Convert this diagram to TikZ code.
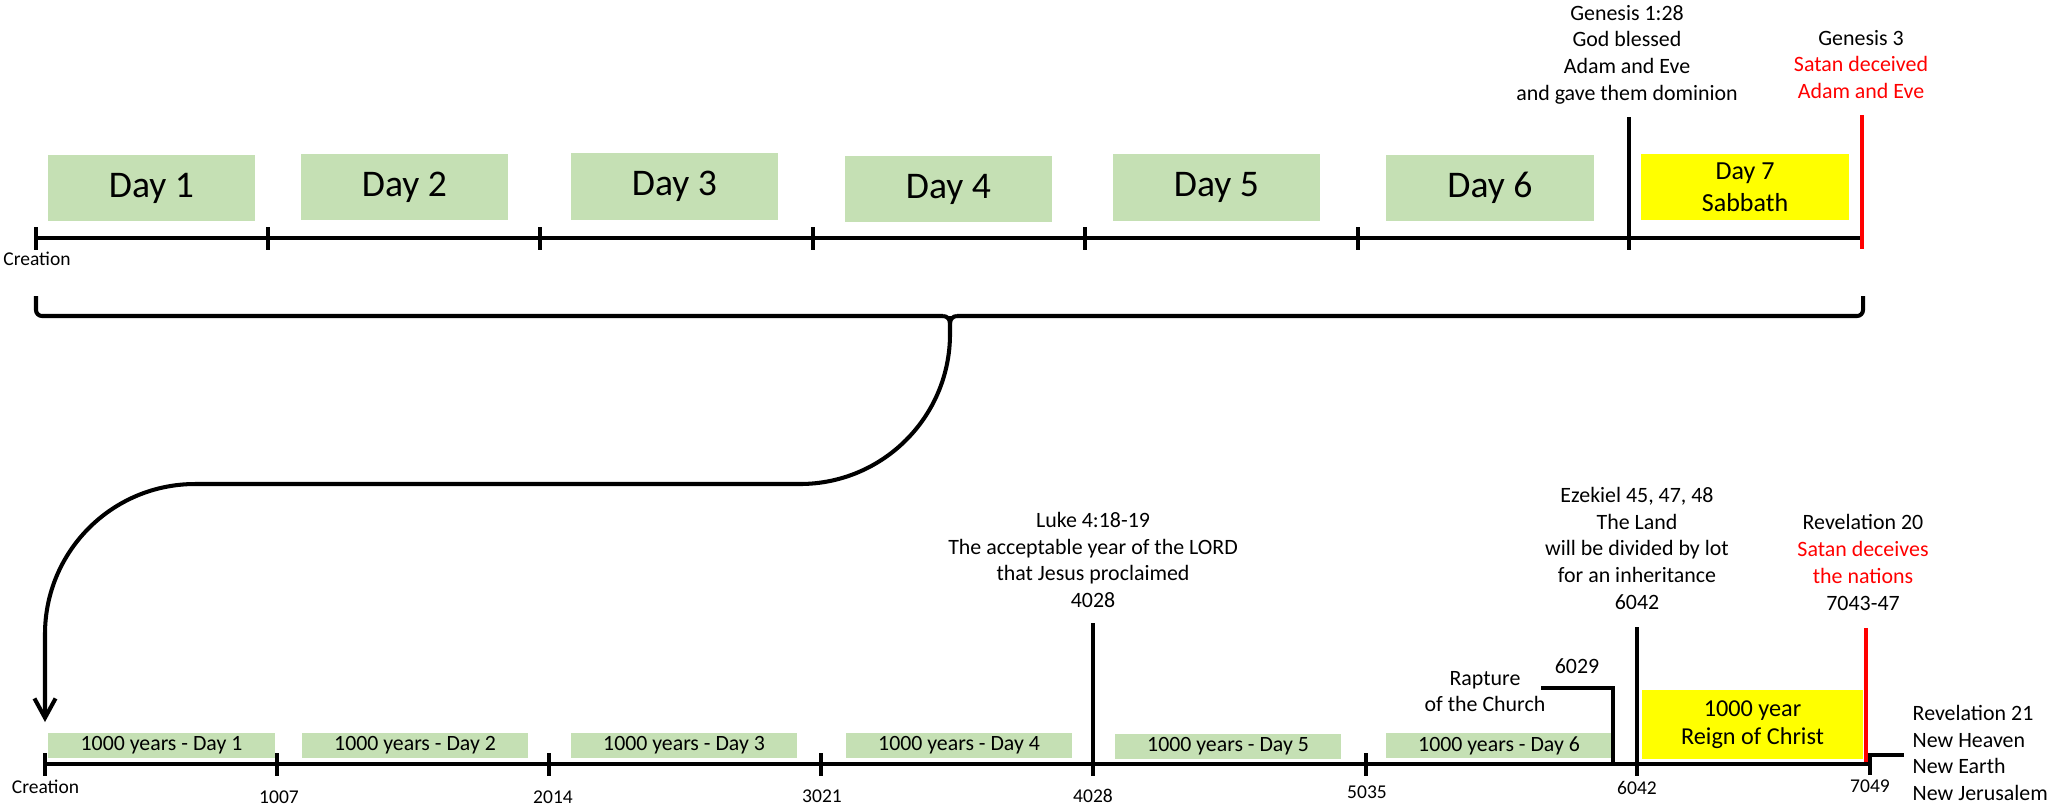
\documentclass[tikz,border=0pt]{standalone}
\usepackage{fontspec}
\setmainfont{Carlito}
\usetikzlibrary{arrows.meta}
\definecolor{daygreen}{HTML}{C5E0B4}
\definecolor{sabyellow}{HTML}{FFFF00}
\definecolor{satred}{HTML}{FF0000}
\begin{document}
\begin{tikzpicture}[x=0.01cm,y=-0.01cm,
  bigday/.style={fill=daygreen, minimum width=2.07cm, minimum height=0.66cm, inner sep=0pt, font=\fontsize{10.7}{12}\selectfont},
  kday/.style={fill=daygreen, minimum width=2.26cm, minimum height=0.25cm, inner sep=0pt, font=\fontsize{6.2}{7.5}\selectfont},
  note/.style={align=center, inner sep=0pt, font=\fontsize{6.23}{7.6}\selectfont},
  small/.style={inner sep=0pt, font=\fontsize{5.55}{6.6}\selectfont},
  axisline/.style={line width=0.95pt},
  tall/.style={line width=1.3pt},
  curve/.style={line width=1.15pt}]
\useasboundingbox (0,0) rectangle (2049,808);

% ---------- top timeline ----------
\node[bigday] (d1) at (151.5,188) {Day 1};
\node[bigday] (d2) at (404.5,187) {Day 2};
\node[bigday] (d3) at (674.5,186.5) {Day 3};
\node[bigday] (d4) at (948.5,189) {Day 4};
\node[bigday] (d5) at (1216.5,187.5) {Day 5};
\node[bigday] (d6) at (1490,188) {Day 6};
\node[bigday, fill=sabyellow, align=center, font=\fontsize{7.4}{9.1}\selectfont] (d7) at (1745,187) {Day 7\\Sabbath};

\coordinate (ta) at (36,238);
\coordinate (tb) at (1862,238);
\draw[axisline] (ta) -- (tb);
\foreach \x in {36,268,540,813,1085,1358}{
  \draw[axisline] (\x,227) -- (\x,250);
}
\coordinate (gtop) at (1629,117);
\coordinate (gbot) at (1629,250);
\draw[tall] (gtop) -- (gbot);
\coordinate (rtop) at (1862,115);
\coordinate (rbot) at (1862,249);
\draw[tall, satred] (rtop) -- (rbot);

\node[small] (creat1) at (37,259) {Creation};
\node[note] (gen1) at (1627,54.5) {Genesis 1:28\\God blessed\\Adam and Eve\\and gave them dominion};
\node[note] (gen3) at (1861,64.4) {Genesis 3\\\textcolor{satred}{Satan deceived}\\\textcolor{satred}{Adam and Eve}};

% ---------- bracket and connector ----------
\coordinate (bl) at (36,296);
\coordinate (br) at (1863,296);
\coordinate (cusp) at (950,316);
\coordinate (arr) at (45,722);
\draw[curve, rounded corners=0.06cm] (bl) -- (36,316) -- (943,316);
\draw[curve] (943,316) to[out=0,in=90] (950,323);
\draw[curve, rounded corners=0.06cm] (br) -- (1863,316) -- (957,316);
\draw[curve] (957,316) to[out=180,in=90] (950,323);
\draw[curve, rounded corners=1.5cm, -{Straight Barb[length=5.5pt,width=6pt]}] (cusp) -- (950,484) -- (45,484) -- (arr);

% ---------- bottom timeline ----------
\node[kday] (k1) at (161.5,745.5) {1000 years - Day 1};
\node[kday] (k2) at (415,745.5) {1000 years - Day 2};
\node[kday] (k3) at (684,745.5) {1000 years - Day 3};
\node[kday] (k4) at (959,745.5) {1000 years - Day 4};
\node[kday] (k5) at (1228,746) {1000 years - Day 5};
\node[kday] (k6) at (1499,745.5) {1000 years - Day 6};
\node[fill=sabyellow, minimum width=2.21cm, minimum height=0.69cm, inner sep=0pt, align=center, font=\fontsize{6.9}{8.1}\selectfont] (reign) at (1752.5,724.5) {1000 year\\Reign of Christ};

\coordinate (ba) at (45,764);
\coordinate (bb) at (1870,764);
\draw[axisline] (ba) -- (bb);
\foreach \x in {45,277,549,821,1366}{
  \draw[axisline] (\x,753) -- (\x,776);
}
\coordinate (ltop) at (1093,623);
\coordinate (lbot) at (1093,776);
\draw[tall] (ltop) -- (lbot);
\coordinate (etop) at (1637,627);
\coordinate (ebot) at (1637,776);
\draw[tall] (etop) -- (ebot);
\coordinate (rrtop) at (1866,628);
\coordinate (rrbot) at (1866,762);
\draw[tall, satred] (rrtop) -- (rrbot);
\coordinate (sbot) at (1870,775);
\coordinate (send) at (1904,755);
\draw[tall] (sbot) -- (1870,755) -- (send);
\coordinate (rapa) at (1541,688);
\coordinate (rapb) at (1613,764);
\draw[tall] (rapa) -- (1613,688) -- (rapb);

\node[small] (creat2) at (45.5,787) {Creation};
\node[small] (y1007) at (279,797) {1007};
\node[small] (y2014) at (553,797) {2014};
\node[small] (y3021) at (822,796) {3021};
\node[small] (y4028) at (1093,796) {4028};
\node[small] (y5035) at (1367,792) {5035};
\node[small] (y6042) at (1637,788) {6042};
\node[small] (y7049) at (1870,786) {7049};

\node[note] (luke) at (1093,560) {Luke 4:18-19\\The acceptable year of the LORD\\that Jesus proclaimed\\4028};
\node[note] (ezek) at (1637,548.4) {Ezekiel 45, 47, 48\\The Land\\will be divided by lot\\for an inheritance\\6042};
\node[note] (rev20) at (1863,562.4) {Revelation 20\\\textcolor{satred}{Satan deceives}\\\textcolor{satred}{the nations}\\7043-47};
\node[note] (rapture) at (1485,691.4) {Rapture\\of the Church};
\node[note] (y6029) at (1577,666) {6029};
\node[note, align=left, anchor=west] (rev21) at (1912,753) {Revelation 21\\New Heaven\\New Earth\\New Jerusalem};
\end{tikzpicture}
\end{document}
